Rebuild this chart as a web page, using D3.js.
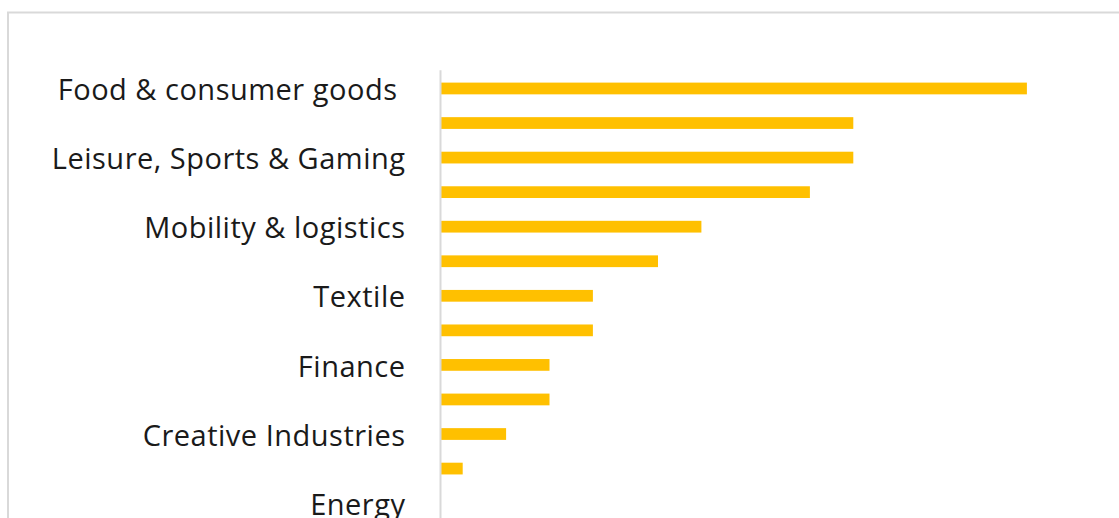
<!DOCTYPE html>
<html>
<head>
<meta charset="utf-8">
<script src="https://cdn.jsdelivr.net/npm/d3@7"></script>
<style>
  html, body { margin: 0; padding: 0; background: #fff; overflow: hidden; }
  svg { display: block; }
</style>
</head>
<body>
<svg id="chart" width="1119" height="518"></svg>
<script>
// Sector labels, top to bottom; rows with an empty label are drawn without a tick label
const categories = [
  "Food & consumer goods\u00a0", "", "Leisure, Sports & Gaming", "",
  "Mobility & logistics", "", "Textile", "",
  "Finance", "", "Creative Industries", "", "Energy"
];
// Number of entries per sector
const values = [27, 19, 19, 17, 12, 10, 7, 7, 5, 5, 3, 1, 0];
const xMax = 30;

const svg = d3.select("#chart");
const W = 1119, H = 518;

// Chart frame
svg.append("rect")
  .attr("x", 8).attr("y", 12.5)
  .attr("width", W + 20).attr("height", H + 20)
  .attr("fill", "#fff")
  .attr("stroke", "#d9d9d9")
  .attr("stroke-width", 2);

const plot = { left: 441, right: 1092, top: 71.2, bottom: 520.4 };

const x = d3.scaleLinear().domain([0, xMax]).range([plot.left, plot.right]);
const y = d3.scaleBand()
  .domain(d3.range(categories.length))
  .range([plot.top, plot.bottom])
  .paddingInner(0.66)
  .paddingOuter(0.33);

// Bars
svg.append("g")
  .selectAll("rect")
  .data(values)
  .join("rect")
  .attr("x", x(0))
  .attr("y", (d, i) => y(i))
  .attr("width", d => x(d) - x(0))
  .attr("height", y.bandwidth())
  .attr("fill", "#FFC000");

// Category axis
const axis = d3.axisLeft(y)
  .tickFormat(i => categories[i])
  .tickSize(0)
  .tickSizeOuter(0)
  .tickPadding(35);

const gAxis = svg.append("g")
  .attr("transform", `translate(${plot.left - 0.5},0)`)
  .call(axis);

gAxis.select(".domain")
  .attr("stroke", "#d9d9d9")
  .attr("stroke-width", 2)
  .attr("d", `M0,${plot.top - 1}V${plot.bottom}`);

gAxis.selectAll(".tick text")
  .attr("fill", "#1a1a1a")
  .attr("dy", "0.4em")
  .style("font-family", "'Open Sans', sans-serif")
  .style("font-size", "29px")
  .style("font-weight", 500)
  .style("letter-spacing", "0.5px");
</script>
</body>
</html>
